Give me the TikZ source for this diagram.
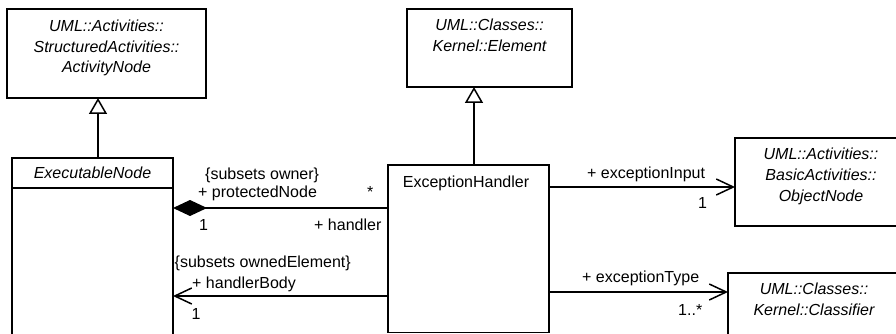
\documentclass[tikz,border=0pt]{standalone}
\usepackage{fontspec}
\setmainfont{Liberation Sans}
\usetikzlibrary{arrows.meta,positioning,calc}

\tikzset{
  classbox/.style={draw, line width=1.5pt, outer sep=0pt, inner sep=0pt},
  classname/.style={font=\itshape\fontsize{16}{20.8}\selectfont, align=center, inner sep=0pt, anchor=base},
  plainname/.style={font=\fontsize{16}{19}\selectfont, inner sep=0pt, anchor=base},
  rolename/.style={font=\fontsize{16}{19}\selectfont, inner sep=0pt, anchor=base west},
  assoc/.style={line width=1.5pt},
  generalize/.style={assoc, -{Triangle[open, length=16pt, width=18pt, line width=1.5pt]}},
  navigable/.style={assoc, -{Straight Barb[length=17pt, width=16pt, line width=1.5pt]}},
  composite/.style={assoc, -{Diamond[length=34pt, width=16pt]}}
}

\begin{document}
\begin{tikzpicture}[x=1pt, y=-1pt]
\useasboundingbox (0,0) rectangle (896,334);
\clip (0,0) rectangle (896,334);

% Classes
\node[classbox, minimum width=199pt, minimum height=89pt] (actnode) at (106.5,53.5) {};
\node[classbox, minimum width=165pt, minimum height=78pt] (element) at (489.5,48) {};
\node[classbox, minimum width=161pt, minimum height=30pt] (execnode) at (92.5,173) {};
\node[classbox, minimum width=161pt, minimum height=180pt, below=0pt of execnode] (execbody) {};
\node[classbox, minimum width=161pt, minimum height=167.5pt] (handler) at (468.5,248.75) {};
\node[classbox, minimum width=171pt, minimum height=88pt] (objnode) at (820.5,182) {};
\node[classbox, minimum width=172pt, minimum height=90pt] (classifier) at (814,318) {};

% Class names (base = last line)
\node[classname] (actname) at (106.5,73) {UML::Activities::\\StructuredActivities::\\ActivityNode};
\node[classname] (elname) at (489.5,51.5) {UML::Classes::\\Kernel::Element};
\node[classname, anchor=center] (execname) at (execnode) {ExecutableNode};
\node[plainname] (handlername) at (466,187) {ExceptionHandler};
\node[classname] (objname) at (821,201) {UML::Activities::\\BasicActivities::\\ObjectNode};
\node[classname] (clname) at (814,315) {UML::Classes::\\Kernel::Classifier};

% Generalizations
\draw[generalize] ([xshift=5.5pt]execnode.north) -- ([xshift=5.5pt]execnode.north |- actnode.south);
\draw[generalize] ([xshift=5.5pt]handler.north) -- ([xshift=5.5pt]handler.north |- element.south);

% Associations
\coordinate (hprot) at ([yshift=-43pt]handler.north west);
\coordinate (hbody) at ([yshift=-131pt]handler.north west);
\coordinate (hinput) at ([yshift=-22pt]handler.north east);
\coordinate (htype) at ([yshift=-127pt]handler.north east);

\draw[composite] (hprot) -- (hprot -| execbody.east);
\draw[navigable] (hbody) -- (hbody -| execbody.east);
\draw[navigable] (hinput) -- (hinput -| objnode.west);
\draw[navigable] (htype) -- (htype -| classifier.west);

% Role names and multiplicities
\node[rolename] (ownerset) at (205,179) {\{subsets owner\}};
\node[rolename] (protnode) at (198,197) {+ protectedNode};
\node[rolename] (protmult) at (199,230) {1};
\node[rolename] (handmult) at (367,197) {*};
\node[rolename] (handrole) at (314,230) {+ handler};
\node[rolename] (elemset) at (174.5,267) {\{subsets ownedElement\}};
\node[rolename] (bodyrole) at (192,288) {+ handlerBody};
\node[rolename] (bodymult) at (191.5,319) {1};
\node[rolename] (inputrole) at (587,178) {+ exceptionInput};
\node[rolename] (inputmult) at (698,208) {1};
\node[rolename] (typerole) at (582,282) {+ exceptionType};
\node[rolename] (typemult) at (678,315) {1..*};
\end{tikzpicture}
\end{document}
